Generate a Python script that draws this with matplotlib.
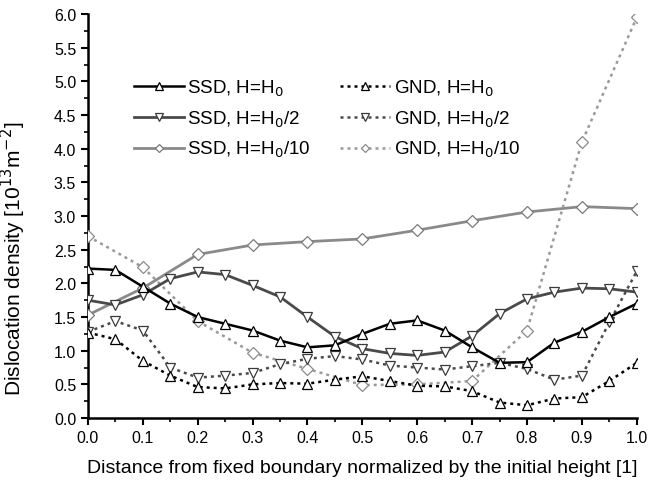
import numpy as np
import matplotlib
matplotlib.use('Agg')
import matplotlib.pyplot as plt
from matplotlib.ticker import MultipleLocator, FormatStrFormatter

plt.rcParams['font.family'] = ['Liberation Sans', 'DejaVu Sans']

# positions along the sample
x_fine = [0.0, 0.05, 0.1, 0.15, 0.2, 0.25, 0.3, 0.35, 0.4, 0.45, 0.5,
          0.55, 0.6, 0.65, 0.7, 0.75, 0.8, 0.85, 0.9, 0.95, 1.0]
x_coarse = [0.0, 0.1, 0.2, 0.3, 0.4, 0.5, 0.6, 0.7, 0.8, 0.9, 1.0]

ssd_h0 = [2.22, 2.20, 1.95, 1.70, 1.50, 1.40, 1.30, 1.15, 1.05, 1.08, 1.25,
          1.40, 1.45, 1.30, 1.05, 0.82, 0.83, 1.12, 1.28, 1.50, 1.70]
gnd_h0 = [1.27, 1.17, 0.85, 0.63, 0.46, 0.44, 0.50, 0.52, 0.51, 0.57, 0.62,
          0.55, 0.48, 0.47, 0.40, 0.23, 0.19, 0.29, 0.31, 0.55, 0.82]
ssd_h2 = [1.75, 1.68, 1.83, 2.07, 2.17, 2.13, 1.97, 1.80, 1.50, 1.21, 1.03,
          0.96, 0.93, 0.98, 1.22, 1.55, 1.77, 1.87, 1.93, 1.92, 1.87]
gnd_h2 = [1.28, 1.44, 1.30, 0.75, 0.60, 0.63, 0.67, 0.80, 0.88, 0.92, 0.87,
          0.78, 0.75, 0.72, 0.77, 0.82, 0.73, 0.57, 0.63, 1.42, 2.18]
ssd_h10 = [1.53, 1.93, 2.43, 2.57, 2.62, 2.66, 2.79, 2.93, 3.06, 3.14, 3.11]
gnd_h10 = [2.70, 2.24, 1.44, 0.97, 0.73, 0.49, 0.50, 0.55, 1.30, 4.10, 5.95]

fig = plt.figure(figsize=(6.64, 4.85), dpi=100)
ax = fig.add_axes([0.1325, 0.136, 0.8265, 0.833])

dot = (0, (1.2, 1.6))
ms = 7

ax.plot(x_fine, ssd_h0, color='black', lw=1.8, marker='^', ms=ms,
        mfc='white', mec='black', mew=0.9, label='SSD, H=H$_0$', zorder=5)
ax.plot(x_fine, ssd_h2, color='#4a4a4a', lw=2.0, marker='v', ms=ms,
        mfc='white', mec='#3a3a3a', mew=0.9, label='SSD, H=H$_0$/2', zorder=4)
ax.plot(x_coarse, ssd_h10, color='#8a8a8a', lw=2.0, marker='D', ms=6,
        mfc='white', mec='#7a7a7a', mew=0.9, label='SSD, H=H$_0$/10', zorder=3)
ax.plot(x_fine, gnd_h0, color='black', lw=1.8, ls=dot, marker='^', ms=ms,
        mfc='white', mec='black', mew=0.9, label='GND, H=H$_0$', zorder=5)
ax.plot(x_fine, gnd_h2, color='#4a4a4a', lw=1.8, ls=dot, marker='v', ms=ms,
        mfc='white', mec='#3a3a3a', mew=0.9, label='GND, H=H$_0$/2', zorder=4)
ax.plot(x_coarse, gnd_h10, color='#9a9a9a', lw=1.8, ls=dot, marker='D', ms=6,
        mfc='white', mec='#8a8a8a', mew=0.9, label='GND, H=H$_0$/10', zorder=3)

ax.set_xlim(0, 1.0)
ax.set_ylim(0, 6.0)
ax.xaxis.set_major_locator(MultipleLocator(0.1))
ax.xaxis.set_minor_locator(MultipleLocator(0.05))
ax.yaxis.set_major_locator(MultipleLocator(0.5))
ax.yaxis.set_minor_locator(MultipleLocator(0.25))
ax.xaxis.set_major_formatter(FormatStrFormatter('%.1f'))
ax.yaxis.set_major_formatter(FormatStrFormatter('%.1f'))

for s in ['top', 'right']:
    ax.spines[s].set_visible(False)
for s in ['left', 'bottom']:
    ax.spines[s].set_linewidth(1.8)
ax.tick_params(which='major', direction='out', length=5, width=1.5, labelsize=11.5)
ax.tick_params(which='minor', direction='out', length=3, width=1.2)

ax.set_xlabel('Distance from fixed boundary normalized by the initial height [1]',
              fontsize=14, labelpad=10)
ax.set_ylabel('Dislocation density [10$^{13}$m$^{-2}$]', fontsize=15)
ax.yaxis.set_label_coords(-0.109, 0.396)

handles, labels = ax.get_legend_handles_labels()
leg = ax.legend(handles, labels, ncol=2, frameon=False, loc='upper left',
                bbox_to_anchor=(0.066, 0.865), fontsize=13.5, handlelength=2.67,
                handletextpad=0.2, columnspacing=1.55, labelspacing=0.55,
                borderpad=0, markerscale=0.75)

fig.savefig('out.png', dpi=100)
